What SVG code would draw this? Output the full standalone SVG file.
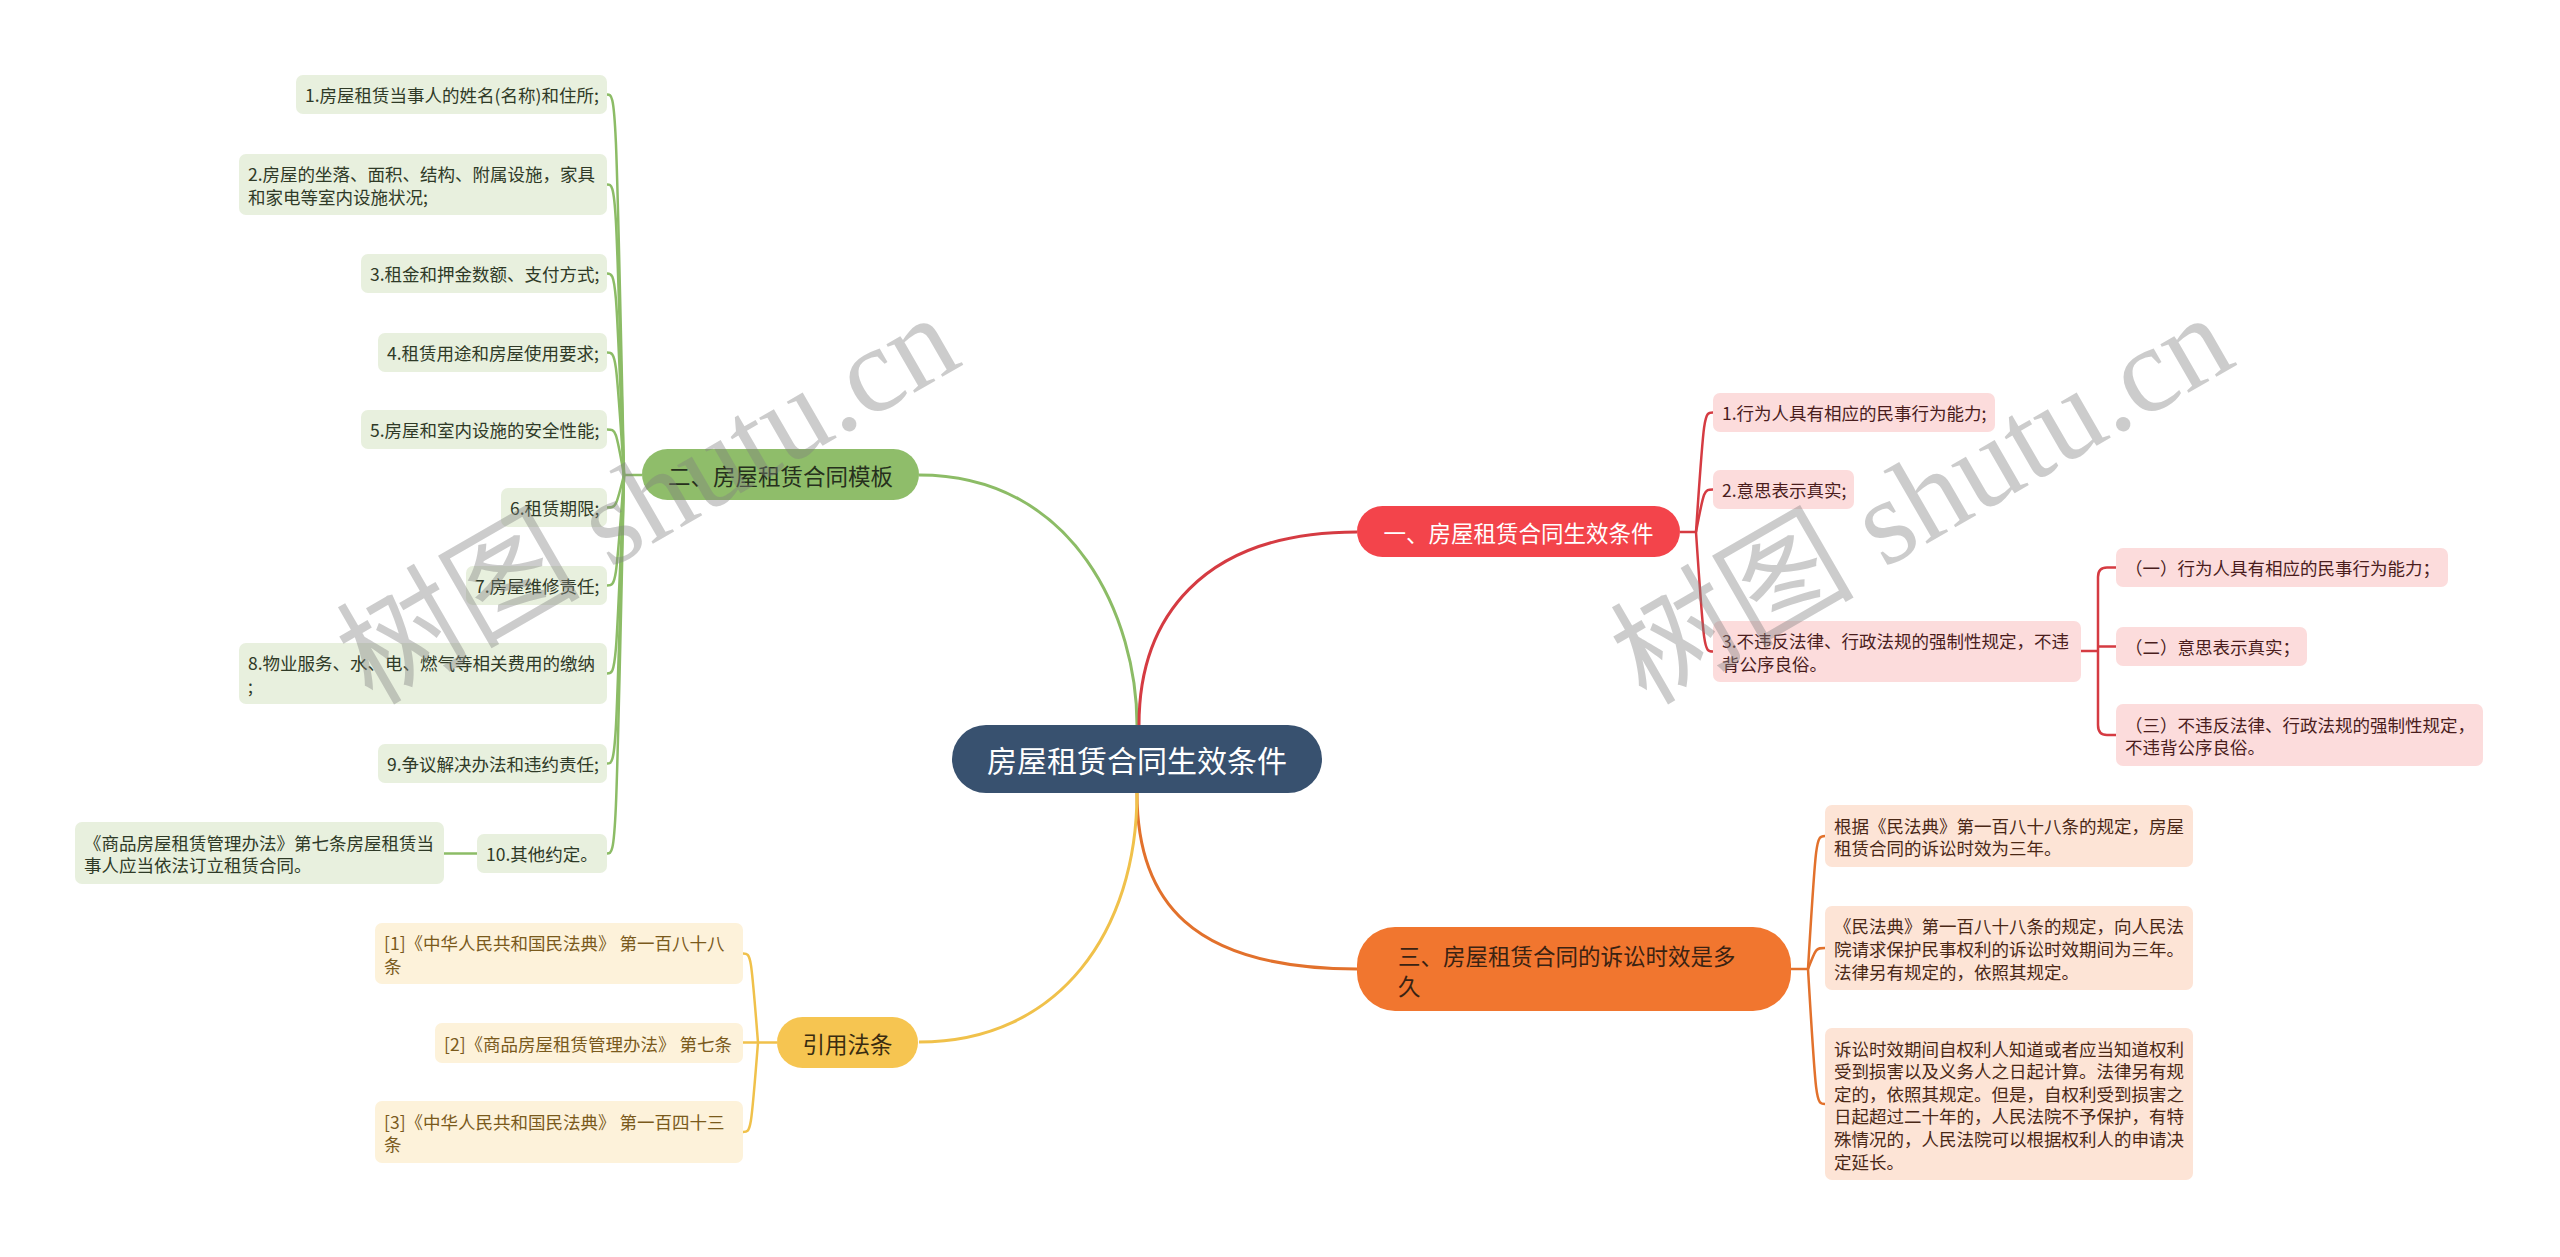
<svg xmlns="http://www.w3.org/2000/svg" width="2560" height="1257" viewBox="0 0 2560 1257">
<style>
text{font-family:"Noto Sans CJK SC","Noto Sans",sans-serif;}
.leaf{font-size:17.5px;dominant-baseline:central;}
.br{font-size:22.5px;dominant-baseline:central;}
.gl{fill:#e8f0de;}
.gt{fill:#2f3a27;}
.rl{fill:#fcdcdc;}
.rt{fill:#4a1d1d;}
.ol{fill:#fde4d6;}
.ot{fill:#4a2816;}
.yl{fill:#fdf2da;}
.yt{fill:#7a5a1c;}
.cg{fill:none;stroke:#8cbc66;stroke-width:2.5;}
.cr{fill:none;stroke:#d53b42;stroke-width:2.5;}
.co{fill:none;stroke:#e2712c;stroke-width:2.5;}
.cy{fill:none;stroke:#f0c14b;stroke-width:2.5;}
.main{stroke-width:3;}
.wm{font-family:"Liberation Serif","Noto Sans CJK SC",serif;font-size:122px;fill:#808080;fill-opacity:0.4;}
</style>
<rect width="2560" height="1257" fill="#ffffff"/>

<g id="connectors">
  <path class="cg main" d="M1137,725 C1137,620 1076,475 919,475"/>
  <path class="cr main" d="M1139,725 C1139,620 1200,532 1357,532"/>
  <path class="co main" d="M1137,793 C1137,900 1190,969 1357,969"/>
  <path class="cy main" d="M1137,793 C1137,930 1060,1042 919,1042"/>
  <path class="cg" d="M642,475 H624"/>
  <path class="cg" d="M624,475 C616,94.5 616,94.5 607,94.5"/>
  <path class="cg" d="M624,475 C616,184.5 616,184.5 607,184.5"/>
  <path class="cg" d="M624,475 C616,273.5 616,273.5 607,273.5"/>
  <path class="cg" d="M624,475 C616,352.5 616,352.5 607,352.5"/>
  <path class="cg" d="M624,475 C616,429.5 616,429.5 607,429.5"/>
  <path class="cg" d="M624,475 C616,507.5 616,507.5 607,507.5"/>
  <path class="cg" d="M624,475 C616,585.5 616,585.5 607,585.5"/>
  <path class="cg" d="M624,475 C616,673.5 616,673.5 607,673.5"/>
  <path class="cg" d="M624,475 C616,763.5 616,763.5 607,763.5"/>
  <path class="cg" d="M624,475 C616,853.5 616,853.5 607,853.5"/>
  <path class="cg" d="M477,853.5 H444"/>
  <path class="cr" d="M1680,532 H1696"/>
  <path class="cr" d="M1696,532 C1704,412.5 1704,412.5 1713,412.5"/>
  <path class="cr" d="M1696,532 C1704,489.5 1704,489.5 1713,489.5"/>
  <path class="cr" d="M1696,532 C1704,651.5 1704,651.5 1713,651.5"/>
  <path class="cr" d="M2081,651 H2098"/>
  <path class="cr" d="M2098,651 V577 Q2098,567.5 2107,567.5 H2116"/>
  <path class="cr" d="M2098,646.5 H2116"/>
  <path class="cr" d="M2098,651 V725 Q2098,735 2107,735 H2116"/>
  <path class="co" d="M1791,969 H1808"/>
  <path class="co" d="M1808,969 C1816,836 1816,836 1825,836"/>
  <path class="co" d="M1808,969 C1816,948 1816,948 1825,948"/>
  <path class="co" d="M1808,969 C1816,1104 1816,1104 1825,1104"/>
  <path class="cy" d="M777,1042.5 H758"/>
  <path class="cy" d="M758,1042.5 C751,953.5 751,953.5 743,953.5"/>
  <path class="cy" d="M758,1042.5 H743"/>
  <path class="cy" d="M758,1042.5 C751,1132 751,1132 743,1132"/>
</g>

<g id="central">
  <rect x="952" y="725" width="370" height="68" rx="34" fill="#38516f"/>
  <text x="1137" y="759" font-size="30" fill="#ffffff" text-anchor="middle" dominant-baseline="central">房屋租赁合同生效条件</text>
</g>

<g id="branch-red">
  <rect x="1357" y="506" width="323" height="51" rx="25.5" fill="#f3444b"/>
  <text class="br" x="1518.5" y="531.5" fill="#ffffff" text-anchor="middle">一、房屋租赁合同生效条件</text>
</g>
<g id="branch-green">
  <rect x="642" y="449" width="277" height="51" rx="25.5" fill="#8fbd6a"/>
  <text class="br" x="780.5" y="474.5" fill="#26301d" text-anchor="middle">二、房屋租赁合同模板</text>
</g>
<g id="branch-orange">
  <rect x="1357" y="927" width="434" height="84" rx="38" fill="#f1762f"/>
  <text class="br" fill="#3a2212"><tspan x="1398" y="955">三、房屋租赁合同的诉讼时效是多</tspan><tspan x="1398" y="985">久</tspan></text>
</g>
<g id="branch-yellow">
  <rect x="777" y="1017" width="141" height="51" rx="25.5" fill="#f6c551"/>
  <text class="br" x="847.5" y="1042.5" fill="#3a2c10" text-anchor="middle">引用法条</text>
</g>

<g id="g1"><rect class="gl" x="296" y="75" width="311" height="39" rx="7"/><text class="leaf gt" x="305" y="94.5">1.房屋租赁当事人的姓名(名称)和住所;</text></g>
<g id="g2"><rect class="gl" x="239" y="154" width="368" height="61" rx="7"/><text class="leaf gt"><tspan x="248" y="173.3">2.房屋的坐落、面积、结构、附属设施，家具</tspan><tspan x="248" y="195.9">和家电等室内设施状况;</tspan></text></g>
<g id="g3"><rect class="gl" x="361" y="254" width="246" height="39" rx="7"/><text class="leaf gt" x="370" y="273.5">3.租金和押金数额、支付方式;</text></g>
<g id="g4"><rect class="gl" x="378" y="333" width="229" height="39" rx="7"/><text class="leaf gt" x="387" y="352.5">4.租赁用途和房屋使用要求;</text></g>
<g id="g5"><rect class="gl" x="361" y="410" width="246" height="39" rx="7"/><text class="leaf gt" x="370" y="429.5">5.房屋和室内设施的安全性能;</text></g>
<g id="g6"><rect class="gl" x="501" y="488" width="106" height="39" rx="7"/><text class="leaf gt" x="510" y="507.5">6.租赁期限;</text></g>
<g id="g7"><rect class="gl" x="466" y="566" width="141" height="39" rx="7"/><text class="leaf gt" x="475" y="585.5">7.房屋维修责任;</text></g>
<g id="g8"><rect class="gl" x="239" y="643" width="368" height="61" rx="7"/><text class="leaf gt"><tspan x="248" y="662.3">8.物业服务、水、电、燃气等相关费用的缴纳</tspan><tspan x="248" y="684.9">;</tspan></text></g>
<g id="g9"><rect class="gl" x="378" y="744" width="229" height="39" rx="7"/><text class="leaf gt" x="387" y="763.5">9.争议解决办法和违约责任;</text></g>
<g id="g10"><rect class="gl" x="477" y="834" width="130" height="39" rx="7"/><text class="leaf gt" x="486" y="853.5">10.其他约定。</text></g>
<g id="g10a"><rect class="gl" x="75" y="822" width="369" height="62" rx="7"/><text class="leaf gt"><tspan x="84" y="841.5">《商品房屋租赁管理办法》第七条房屋租赁当</tspan><tspan x="84" y="864.1">事人应当依法订立租赁合同。</tspan></text></g>

<g id="r1"><rect class="rl" x="1713" y="393" width="282" height="39" rx="7"/><text class="leaf rt" x="1722" y="412.5">1.行为人具有相应的民事行为能力;</text></g>
<g id="r2"><rect class="rl" x="1713" y="470" width="141" height="39" rx="7"/><text class="leaf rt" x="1722" y="489.5">2.意思表示真实;</text></g>
<g id="r3"><rect class="rl" x="1713" y="621" width="368" height="61" rx="7"/><text class="leaf rt"><tspan x="1722" y="640.3">3.不违反法律、行政法规的强制性规定，不违</tspan><tspan x="1722" y="662.9">背公序良俗。</tspan></text></g>
<g id="r3a"><rect class="rl" x="2116" y="548" width="332" height="39" rx="7"/><text class="leaf rt" x="2125" y="567.5">（一）行为人具有相应的民事行为能力；</text></g>
<g id="r3b"><rect class="rl" x="2116" y="627" width="191" height="39" rx="7"/><text class="leaf rt" x="2125" y="646.5">（二）意思表示真实；</text></g>
<g id="r3c"><rect class="rl" x="2116" y="704" width="367" height="62" rx="7"/><text class="leaf rt"><tspan x="2125" y="723.5">（三）不违反法律、行政法规的强制性规定，</tspan><tspan x="2125" y="746.1">不违背公序良俗。</tspan></text></g>

<g id="o1"><rect class="ol" x="1825" y="805" width="368" height="62" rx="7"/><text class="leaf ot"><tspan x="1834" y="824.5">根据《民法典》第一百八十八条的规定，房屋</tspan><tspan x="1834" y="847.1">租赁合同的诉讼时效为三年。</tspan></text></g>
<g id="o2"><rect class="ol" x="1825" y="906" width="368" height="84" rx="7"/><text class="leaf ot"><tspan x="1834" y="925.3">《民法典》第一百八十八条的规定，向人民法</tspan><tspan x="1834" y="947.9">院请求保护民事权利的诉讼时效期间为三年。</tspan><tspan x="1834" y="970.5">法律另有规定的，依照其规定。</tspan></text></g>
<g id="o3"><rect class="ol" x="1825" y="1028" width="368" height="152" rx="7"/><text class="leaf ot"><tspan x="1834" y="1047.5">诉讼时效期间自权利人知道或者应当知道权利</tspan><tspan x="1834" y="1070.1">受到损害以及义务人之日起计算。法律另有规</tspan><tspan x="1834" y="1092.7">定的，依照其规定。但是，自权利受到损害之</tspan><tspan x="1834" y="1115.3">日起超过二十年的，人民法院不予保护，有特</tspan><tspan x="1834" y="1137.9">殊情况的，人民法院可以根据权利人的申请决</tspan><tspan x="1834" y="1160.5">定延长。</tspan></text></g>

<g id="y1"><rect class="yl" x="375" y="923" width="368" height="61" rx="7"/><text class="leaf yt"><tspan x="384" y="942.3">[1]《中华人民共和国民法典》 第一百八十八</tspan><tspan x="384" y="964.9">条</tspan></text></g>
<g id="y2"><rect class="yl" x="435" y="1023" width="308" height="40" rx="7"/><text class="leaf yt" x="444" y="1043">[2]《商品房屋租赁管理办法》 第七条</text></g>
<g id="y3"><rect class="yl" x="375" y="1101" width="368" height="62" rx="7"/><text class="leaf yt"><tspan x="384" y="1120.5">[3]《中华人民共和国民法典》 第一百四十三</tspan><tspan x="384" y="1143.1">条</tspan></text></g>

<g id="watermarks">
  <text class="wm" x="372" y="706" transform="rotate(-30 372 706)">树图 shutu.cn</text>
  <text class="wm" x="1646" y="706" transform="rotate(-30 1646 706)">树图 shutu.cn</text>
</g>
</svg>
